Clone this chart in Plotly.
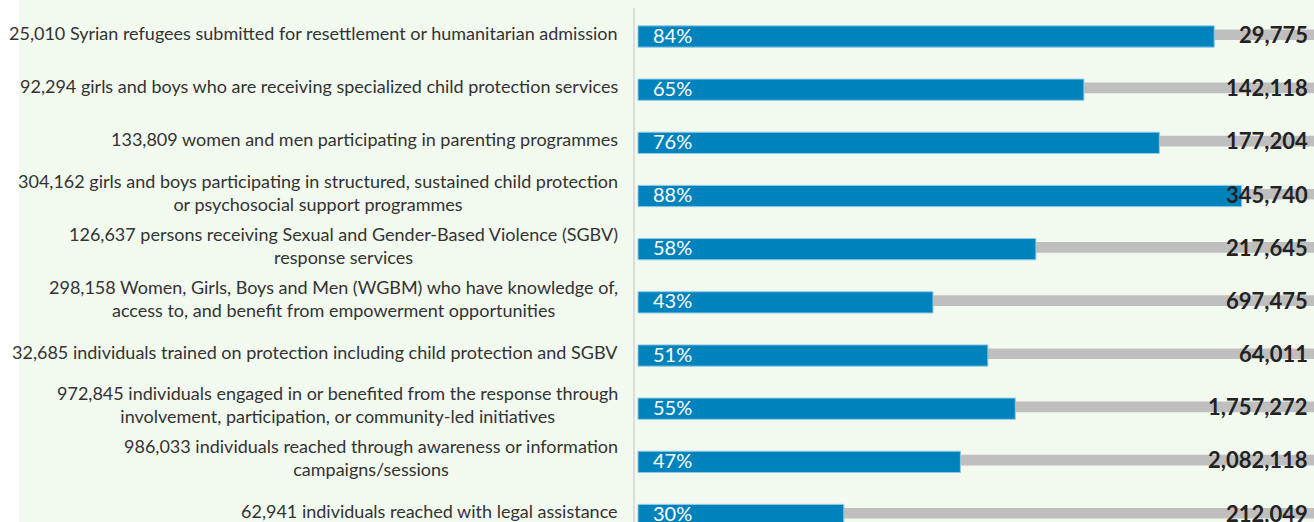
import plotly.graph_objects as go

labels = [
    "25,010 Syrian refugees submitted for resettlement or humanitarian admission",
    "92,294 girls and boys who are receiving specialized child protection services",
    "133,809 women and men participating in parenting programmes",
    "304,162 girls and boys participating in structured, sustained child protection<br>or psychosocial support programmes",
    "126,637 persons receiving Sexual and Gender-Based Violence (SGBV)<br>response services",
    "298,158 Women, Girls, Boys and Men (WGBM) who have knowledge of,<br>access to, and benefit from empowerment opportunities",
    "32,685 individuals trained on protection including child protection and SGBV",
    "972,845 individuals engaged in or benefited from the response through<br>involvement, participation, or community-led initiatives",
    "986,033 individuals reached through awareness or information<br>campaigns/sessions",
    "62,941 individuals reached with legal assistance",
]
targets = ["29,775", "142,118", "177,204", "345,740", "217,645", "697,475",
           "64,011", "1,757,272", "2,082,118", "212,049"]
percents = [84, 65, 76, 88, 58, 43, 51, 55, 47, 30]
full = [100] * len(percents)

idx = list(range(len(labels)))

BLUE = "#0083bd"
GRAY = "#bfbfbf"
BG = "#f2f9ef"
FONT = "Lato"

fig = go.Figure()
fig.add_trace(go.Bar(
    y=idx, x=full, orientation="h", width=0.2, offset=-0.133,
    marker=dict(color=GRAY, line=dict(width=0)), hoverinfo="skip",
))
fig.add_trace(go.Bar(
    y=idx, x=percents, orientation="h", width=0.4,
    marker=dict(color=BLUE, line=dict(color="#8fcbe6", width=1)),
    hoverinfo="skip",
))

ann = []
for i, (lab, tg, p) in enumerate(zip(labels, targets, percents)):
    ann.append(dict(
        x=0, xref="paper", xanchor="right", xshift=-15,
        y=i, yref="y", yanchor="middle", yshift=4, text=lab, showarrow=False,
        align="center", font=dict(family=FONT, size=18, color="#333333"),
    ))
    ann.append(dict(
        x=0, xref="x", xanchor="left", xshift=13,
        y=i, yref="y", yanchor="middle", yshift=2, text=f"{p}%", showarrow=False,
        font=dict(family=FONT, size=20, color="white"),
    ))
    ann.append(dict(
        x=1, xref="paper", xanchor="right", xshift=-4,
        y=i, yref="y", yanchor="middle", yshift=2, text=f"<b>{tg}</b>", showarrow=False,
        font=dict(family=FONT, size=22, color="#222222"),
    ))

W, H = 1314, 522
L, T = 635, 8
pw = W - L
px_per = 6.86
row0, rowstep = 36.5, 53.17

fig.update_layout(
    width=W, height=H,
    margin=dict(l=L, r=0, t=T, b=0, pad=0),
    paper_bgcolor=BG, plot_bgcolor=BG,
    barmode="overlay", showlegend=False,
    xaxis=dict(range=[-3 / px_per, (pw - 3) / px_per], visible=False, fixedrange=True),
    yaxis=dict(range=[(H - row0) / rowstep, (T - row0) / rowstep],
               showticklabels=False, showgrid=False, zeroline=False,
               showline=True, linecolor="#dcdcdc", linewidth=2, fixedrange=True),
    annotations=ann,
    shapes=[dict(type="rect", xref="paper", yref="paper",
                 x0=-L / pw, x1=(19 - L) / pw, y0=-0.1, y1=1.1,
                 fillcolor="white", line=dict(width=0), layer="below")],
)

fig.write_html("out.html", config={"displayModeBar": False},
               post_script="document.body.style.margin='0';document.body.style.overflow='hidden';")
